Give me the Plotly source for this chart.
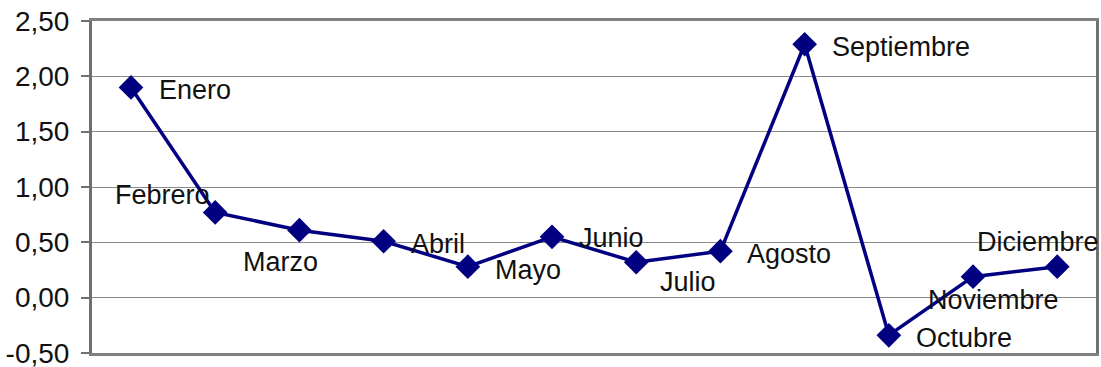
import plotly.graph_objects as go

months = ["Enero", "Febrero", "Marzo", "Abril", "Mayo", "Junio", "Julio",
          "Agosto", "Septiembre", "Octubre", "Noviembre", "Diciembre"]
values = [1.90, 0.77, 0.61, 0.51, 0.28, 0.55, 0.32, 0.42, 2.29, -0.34, 0.19, 0.28]
tick_vals = [-0.5, 0.0, 0.5, 1.0, 1.5, 2.0, 2.5]
tick_text = ["-0,50", "0,00", "0,50", "1,00", "1,50", "2,00", "2,50"]

# label placement (anchor, xshift, yshift) per month
label_pos = [("left", 26, -3), ("right", -3, 17), ("center", -19, -32), ("left", 25, -3),
             ("left", 25, -3), ("left", 25, -1), ("center", 52, -20), ("left", 25, -3),
             ("left", 25, -3), ("left", 25, -3), ("center", 20, -23), ("center", -19, 25)]

FONT = "Liberation Sans, Arial, sans-serif"
NAVY = "#000080"

fig = go.Figure()
fig.add_trace(go.Scatter(
    x=months, y=values, mode="lines+markers",
    line=dict(color=NAVY, width=3.5),
    marker=dict(symbol="diamond", size=19, color=NAVY),
    hoverinfo="skip", showlegend=False,
))

for m, v, (anc, xs, ys) in zip(months, values, label_pos):
    fig.add_annotation(x=m, y=v, text=m, showarrow=False, xanchor=anc,
                       yanchor="middle", xshift=xs, yshift=ys,
                       font=dict(family=FONT, size=27, color="#111111"))

fig.update_layout(
    width=1101, height=367,
    margin=dict(l=92, r=5, t=21, b=14, autoexpand=False),
    paper_bgcolor="white", plot_bgcolor="white",
    font=dict(family=FONT, size=27, color="#111111"),
    xaxis=dict(type="category", showticklabels=False, showgrid=False,
               showline=True, linecolor="#808080", linewidth=3, mirror=True,
               ticks="", zeroline=False, range=[-0.463, 11.46], automargin=False),
    yaxis=dict(range=[-0.5, 2.5], tickvals=tick_vals, ticktext=tick_text,
               showgrid=True, gridcolor="#8a8a8a", gridwidth=1.2,
               showline=True, linecolor="#707070", linewidth=3, mirror=True,
               ticks="outside", ticklen=8, tickcolor="#707070", tickwidth=1.5,
               ticklabelstandoff=6, zeroline=False, ticklabeloverflow="allow",
               automargin=False,
               tickfont=dict(family=FONT, size=28, color="#111111")),
)

fig.write_html("out.html")
